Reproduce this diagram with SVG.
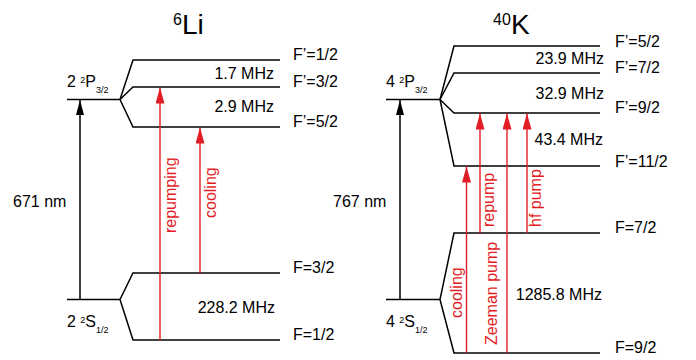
<svg xmlns="http://www.w3.org/2000/svg" width="696" height="360" viewBox="0 0 696 360">
<style>
text{font-family:"Liberation Sans",Arial,sans-serif;font-size:16px;fill:#000}
.lvl{fill:none;stroke:#000;stroke-width:1.5}
.red{stroke:#e31d25;stroke-width:1.4;fill:none}
.blk{stroke:#000;stroke-width:1.5;fill:none}
.rt{fill:#e31d25}
.end{text-anchor:end}
.title{font-size:28px}
.tsup{font-size:16px}
</style>
<defs>
<marker id="ah-red" markerUnits="userSpaceOnUse" markerWidth="16" markerHeight="9" refX="16" refY="4.5" orient="auto" viewBox="0 0 16 9">
<path d="M0,0 L16,4.5 L0,9 z" fill="#e31d25"/>
</marker>
<marker id="ah-blk" markerUnits="userSpaceOnUse" markerWidth="15" markerHeight="8" refX="15" refY="4" orient="auto" viewBox="0 0 15 8">
<path d="M0,0 L15,4 L0,8 z" fill="#000"/>
</marker>
</defs>

<g id="title-li">
<text class="tsup" x="173" y="25">6</text>
<text class="title" x="182" y="34">Li</text>
</g>
<g id="title-k">
<text class="tsup" x="493" y="25">40</text>
<text class="title" x="511" y="34">K</text>
</g>

<!-- Li levels -->
<g id="li-p32">
<path class="lvl" d="M67,99.5 H120"/>
<text x="67" y="87">2 <tspan font-size="9" dy="-4">2</tspan><tspan dy="4">P</tspan><tspan font-size="9" dy="6">3/2</tspan></text>
</g>
<g id="li-fp12">
<path class="lvl" d="M120,99.5 L133,60 H280"/>
<text x="293" y="60">F’=1/2</text>
</g>
<g id="li-fp32">
<path class="lvl" d="M120,99.5 L133,87 H280"/>
<text x="293" y="87">F’=3/2</text>
</g>
<g id="li-fp52">
<path class="lvl" d="M120,99.5 L133,127 H280"/>
<text x="293" y="127">F’=5/2</text>
</g>
<g id="li-s12">
<path class="lvl" d="M67,299.5 H120"/>
<text x="67" y="327">2 <tspan font-size="9" dy="-4">2</tspan><tspan dy="4">S</tspan><tspan font-size="9" dy="6">1/2</tspan></text>
</g>
<g id="li-f32">
<path class="lvl" d="M120,299.5 L133,273 H280"/>
<text x="293" y="273">F=3/2</text>
</g>
<g id="li-f12">
<path class="lvl" d="M120,299.5 L133,340 H280"/>
<text x="293" y="340">F=1/2</text>
</g>
<g id="li-splittings">
<text class="end" x="274" y="79">1.7 MHz</text>
<text class="end" x="274" y="112">2.9 MHz</text>
<text class="end" x="275" y="313">228.2 MHz</text>
<text x="13" y="207">671 nm</text>
</g>

<!-- K levels -->
<g id="k-p32">
<path class="lvl" d="M386,99.5 H440"/>
<text x="386" y="87">4 <tspan font-size="9" dy="-4">2</tspan><tspan dy="4">P</tspan><tspan font-size="9" dy="6">3/2</tspan></text>
</g>
<g id="k-fp52">
<path class="lvl" d="M440,99.5 L454,46 H600"/>
<text x="615" y="47">F’=5/2</text>
</g>
<g id="k-fp72">
<path class="lvl" d="M440,99.5 L454,73 H600"/>
<text x="615" y="73">F’=7/2</text>
</g>
<g id="k-fp92">
<path class="lvl" d="M440,99.5 L454,113 H600"/>
<text x="615" y="113">F’=9/2</text>
</g>
<g id="k-fp112">
<path class="lvl" d="M440,99.5 L454,166 H600"/>
<text x="615" y="167">F’=11/2</text>
</g>
<g id="k-s12">
<path class="lvl" d="M386,299.5 H440"/>
<text x="386" y="327">4 <tspan font-size="9" dy="-4">2</tspan><tspan dy="4">S</tspan><tspan font-size="9" dy="6">1/2</tspan></text>
</g>
<g id="k-f72">
<path class="lvl" d="M440,299.5 L454,233 H600"/>
<text x="615" y="233">F=7/2</text>
</g>
<g id="k-f92">
<path class="lvl" d="M440,299.5 L454,353 H600"/>
<text x="615" y="353">F=9/2</text>
</g>
<g id="k-splittings">
<text class="end" x="604" y="64">23.9 MHz</text>
<text class="end" x="604" y="99">32.9 MHz</text>
<text class="end" x="603" y="145">43.4 MHz</text>
<text class="end" x="602" y="300">1285.8 MHz</text>
<text x="333" y="207">767 nm</text>
</g>

<g id="connectors">
<line class="blk" x1="80" y1="299.5" x2="80" y2="100" marker-end="url(#ah-blk)"/>
<line class="blk" x1="400" y1="299.5" x2="400" y2="100" marker-end="url(#ah-blk)"/>
<line class="red" x1="160" y1="340" x2="160" y2="87.5" marker-end="url(#ah-red)"/>
<line class="red" x1="200" y1="273" x2="200" y2="127.5" marker-end="url(#ah-red)"/>
<line class="red" x1="466.5" y1="353" x2="466.5" y2="166.5" marker-end="url(#ah-red)"/>
<line class="red" x1="480" y1="233" x2="480" y2="113.5" marker-end="url(#ah-red)"/>
<line class="red" x1="507" y1="353" x2="507" y2="113.5" marker-end="url(#ah-red)"/>
<line class="red" x1="527" y1="233" x2="527" y2="113.5" marker-end="url(#ah-red)"/>
<text class="rt" transform="translate(176,233) rotate(-90)">repumping</text>
<text class="rt" transform="translate(216,218) rotate(-90)">cooling</text>
<text class="rt" transform="translate(462,318) rotate(-90)">cooling</text>
<text class="rt" transform="translate(494,227) rotate(-90)">repump</text>
<text class="rt" transform="translate(497,345) rotate(-90)">Zeeman pump</text>
<text class="rt" transform="translate(541,227) rotate(-90)">hf pump</text>
</g>
</svg>
